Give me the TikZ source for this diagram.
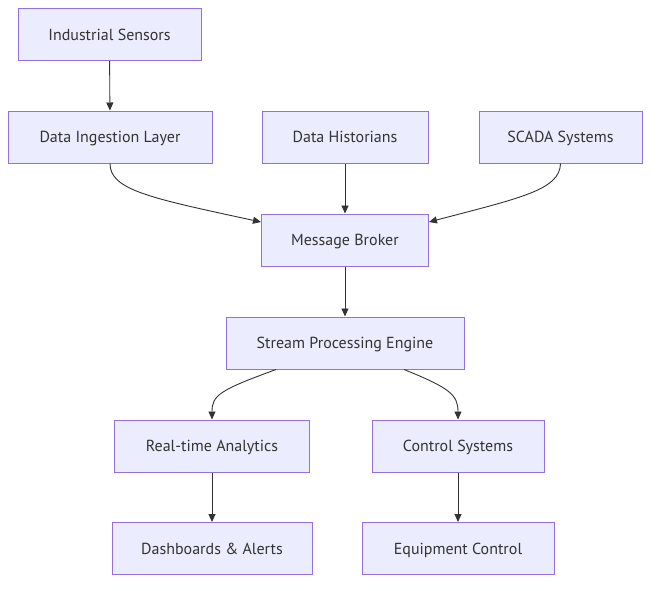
\documentclass[tikz,border=0pt]{standalone}
\usepackage{fontspec}
\setmainfont{PT Sans}
\usetikzlibrary{arrows.meta}
\definecolor{boxfill}{HTML}{ECECFF}
\definecolor{boxline}{HTML}{9370DB}
\definecolor{linkcol}{HTML}{333333}
\tikzset{
  box/.style={draw=boxline,fill=boxfill,line width=1pt,minimum height=52pt,inner sep=0pt,
    text height=14pt,text depth=3pt,font=\fontsize{16}{19}\selectfont,text=linkcol},
  link/.style={draw=linkcol,line width=0.9pt,-{Triangle[length=8pt,width=7pt]}}
}
\begin{document}
\begin{tikzpicture}[x=1pt,y=-1pt]
  \useasboundingbox (0,0) rectangle (659,590);
  % sources
  \node[box,minimum width=183pt] (sensors) at (109.5,34.5) {Industrial Sensors};
  \node[box,minimum width=204pt] (ingest) at (110,137) {Data Ingestion Layer};
  \node[box,minimum width=166pt] (historians) at (345,137) {Data Historians};
  \node[box,minimum width=163pt] (scada) at (560.5,137) {SCADA Systems};
  % core
  \node[box,minimum width=167pt] (broker) at (345,240) {Message Broker};
  \node[box,minimum width=238pt] (stream) at (345,343) {Stream Processing Engine};
  % outputs
  \node[box,minimum width=195pt] (analytics) at (212,446) {Real-time Analytics};
  \node[box,minimum width=172pt] (control) at (458,446) {Control Systems};
  \node[box,minimum width=200pt] (dash) at (212,548.5) {Dashboards \& Alerts};
  \node[box,minimum width=192pt] (equip) at (458,548.5) {Equipment Control};
  % links
  \draw[link] (sensors) -- (ingest);
  \draw[link] (ingest.south) .. controls (110,190) and (150,198) .. (broker.west |- 0,222);
  \draw[link] (historians) -- (broker);
  \draw[link] (scada.south) .. controls (560,190) and (520,198) .. (broker.east |- 0,222);
  \draw[link] (broker) -- (stream);
  \draw[link] (stream.south -| 276,0) .. controls (220,390) and (212,395) .. (analytics.north);
  \draw[link] (stream.south -| 404,0) .. controls (450,388) and (458,395) .. (control.north);
  \draw[link] (analytics) -- (dash);
  \draw[link] (control) -- (equip);
\end{tikzpicture}
\end{document}
